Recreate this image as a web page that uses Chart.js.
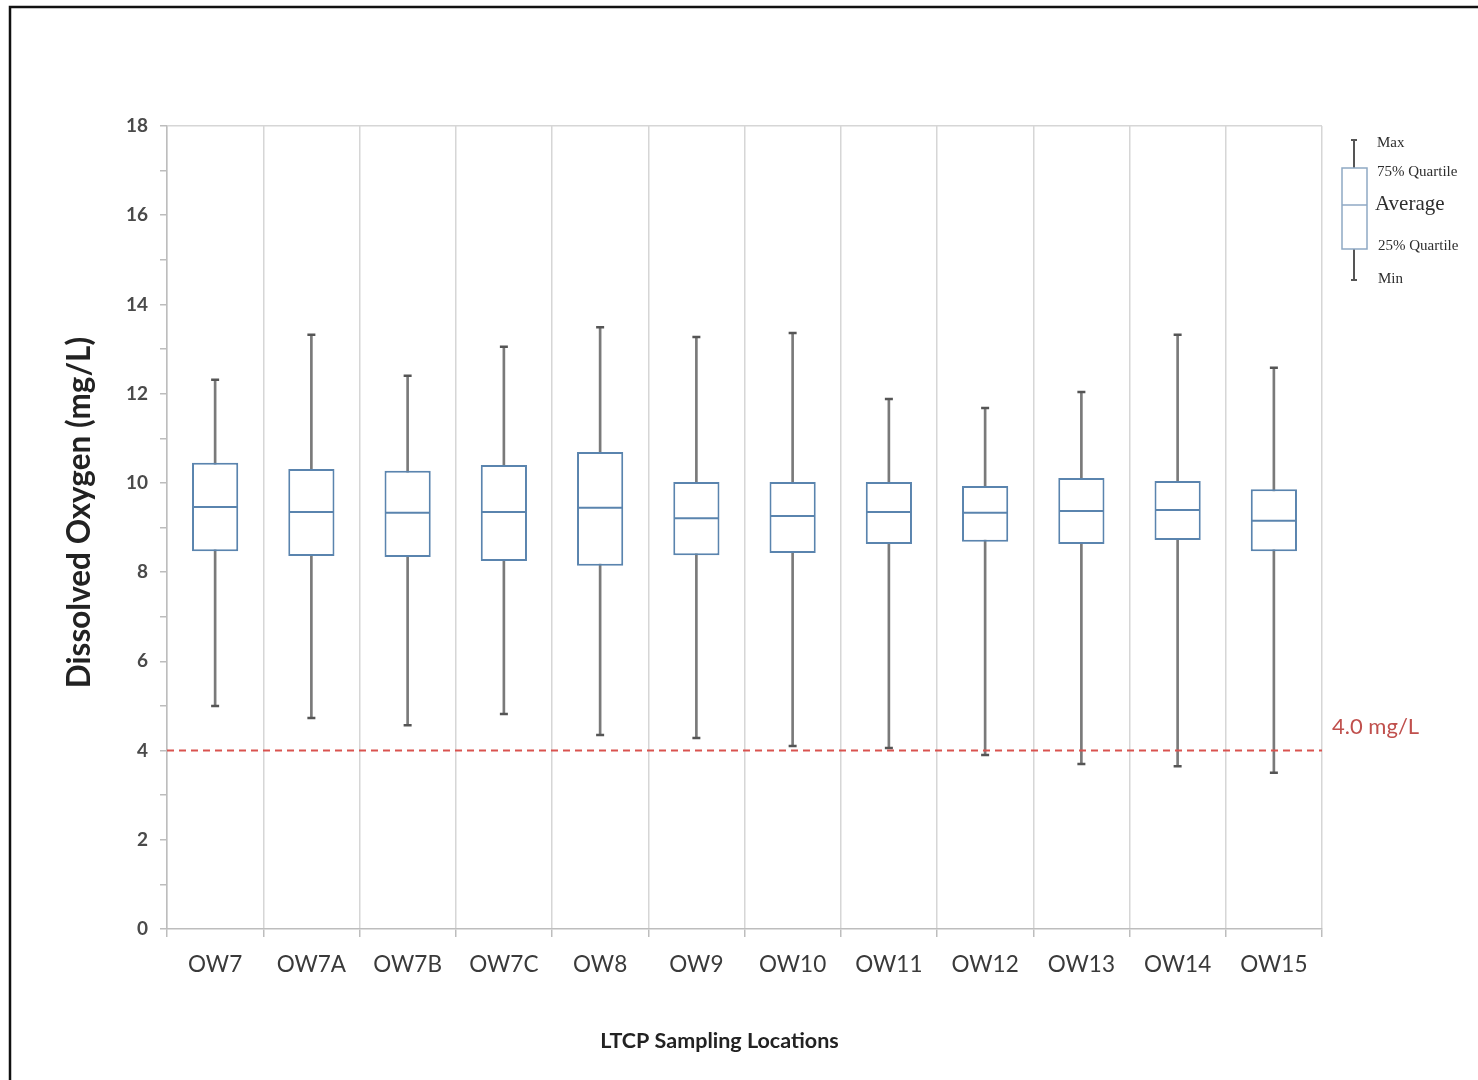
<!DOCTYPE html>
<html>
<head>
<meta charset="utf-8">
<title>Dissolved Oxygen by LTCP Sampling Location</title>
<script src="https://cdn.jsdelivr.net/npm/chart.js@4.4.1/dist/chart.umd.min.js"></script>
<style>
  html, body { margin: 0; padding: 0; background: #ffffff; }
  #wrap { position: relative; width: 1478px; height: 1080px; overflow: hidden; }
  canvas { display: block; }
</style>
</head>
<body>
<div id="wrap"><canvas id="chart" width="1478" height="1080"></canvas></div>
<script>
// Sampling locations and dissolved oxygen statistics (mg/L)
const locations = ['OW7', 'OW7A', 'OW7B', 'OW7C', 'OW8', 'OW9', 'OW10', 'OW11', 'OW12', 'OW13', 'OW14', 'OW15'];
const maxDO     = [12.31, 13.32, 12.40, 13.05, 13.49, 13.27, 13.36, 11.88, 11.68, 12.04, 13.32, 12.58];
const q3DO      = [10.45, 10.31, 10.27, 10.40, 10.69, 10.02, 10.02, 10.02,  9.93, 10.11, 10.04,  9.86];
const avgDO     = [ 9.46,  9.35,  9.33,  9.35,  9.44,  9.21,  9.26,  9.35,  9.33,  9.37,  9.39,  9.15];
const q1DO      = [ 8.47,  8.36,  8.34,  8.25,  8.14,  8.38,  8.43,  8.63,  8.68,  8.63,  8.72,  8.47];
const minDO     = [ 5.00,  4.73,  4.57,  4.82,  4.35,  4.28,  4.10,  4.06,  3.90,  3.70,  3.65,  3.50];

// Axis range and the water quality criterion
const yMin = 0;
const yMax = 18;
const yLabelStep = 2;
const criterion = 4.0;
const criterionLabel = '4.0 mg/L';

const yTitle = 'Dissolved Oxygen (mg/L)';
const xTitle = 'LTCP Sampling Locations';
const keyLabels = ['Max', '75% Quartile', 'Average', '25% Quartile', 'Min'];

const BOX_BLUE = '#5a84ae';
const WHISKER = '#7a7a7a';
const CAP = '#555555';
const GRID = '#d6d6d6';
const TEXT = '#3a3a3a';
const SANS = 'Lato, "Open Sans", "Liberation Sans", sans-serif';
const SERIF = '"Liberation Serif", "DejaVu Serif", serif';

// Floating ranges built from the arrays above
const whiskerRanges = minDO.map((v, i) => [v, maxDO[i]]);
const boxRanges = q1DO.map((v, i) => [v, q3DO[i]]);

const decorations = {
  id: 'decorations',
  beforeDraw(chart) {
    const ctx = chart.ctx;
    ctx.save();
    ctx.fillStyle = '#ffffff';
    ctx.fillRect(0, 0, chart.width, chart.height);
    // outer frame
    ctx.strokeStyle = '#111111';
    ctx.lineWidth = 2.5;
    ctx.beginPath();
    ctx.moveTo(10, chart.height + 5);
    ctx.lineTo(10, 7);
    ctx.lineTo(chart.width + 5, 7);
    ctx.stroke();
    ctx.restore();
  },
  afterDatasetsDraw(chart) {
    const ctx = chart.ctx;
    const area = chart.chartArea;
    const y = chart.scales.y.getPixelForValue(criterion);
    ctx.save();
    ctx.strokeStyle = '#d9534f';
    ctx.lineWidth = 2;
    ctx.setLineDash([7, 5]);
    ctx.beginPath();
    ctx.moveTo(area.left, y);
    ctx.lineTo(area.right, y);
    ctx.stroke();
    ctx.setLineDash([]);
    ctx.fillStyle = '#c0504d';
    ctx.font = '22px ' + SANS;
    ctx.textAlign = 'left';
    ctx.textBaseline = 'middle';
    ctx.fillText(criterionLabel, area.right + 10, y - 24);
    ctx.restore();
  },
  afterDraw(chart) {
    const ctx = chart.ctx;
    const area = chart.chartArea;
    ctx.save();
    // axis titles
    ctx.fillStyle = '#222222';
    ctx.font = 'bold 21.5px ' + SANS;
    ctx.textAlign = 'center';
    ctx.textBaseline = 'middle';
    ctx.fillText(xTitle, (area.left + area.right) / 2 - 25, 1041);
    ctx.translate(80, (area.top + area.bottom) / 2 - 15);
    ctx.rotate(-Math.PI / 2);
    ctx.font = 'bold 31.5px ' + SANS;
    ctx.fillText(yTitle, 0, 0);
    ctx.restore();

    // box plot key
    ctx.save();
    const kx = area.right + 32;
    ctx.strokeStyle = CAP;
    ctx.lineWidth = 2;
    ctx.beginPath();
    ctx.moveTo(kx, 140); ctx.lineTo(kx, 168);
    ctx.moveTo(kx, 249); ctx.lineTo(kx, 280);
    ctx.moveTo(kx - 3, 140); ctx.lineTo(kx + 3, 140);
    ctx.moveTo(kx - 3, 280); ctx.lineTo(kx + 3, 280);
    ctx.stroke();
    ctx.strokeStyle = '#8fa9c4';
    ctx.lineWidth = 1.5;
    ctx.strokeRect(kx - 12, 168, 25, 81);
    ctx.beginPath();
    ctx.moveTo(kx - 12, 205); ctx.lineTo(kx + 13, 205);
    ctx.stroke();
    ctx.fillStyle = '#2e2e2e';
    ctx.textAlign = 'left';
    ctx.textBaseline = 'middle';
    const tx = kx + 23;
    ctx.font = '15px ' + SERIF;
    ctx.fillText(keyLabels[0], tx, 143);
    ctx.fillText(keyLabels[1], tx, 172);
    ctx.font = '21px ' + SERIF;
    ctx.fillText(keyLabels[2], tx - 2, 204);
    ctx.font = '15px ' + SERIF;
    ctx.fillText(keyLabels[3], tx + 1, 246);
    ctx.fillText(keyLabels[4], tx + 1, 279);
    ctx.restore();
  }
};

const chart = new Chart(document.getElementById('chart'), {
  type: 'bar',
  data: {
    labels: locations,
    datasets: [
      {
        label: 'Min to Max',
        data: whiskerRanges,
        backgroundColor: WHISKER,
        borderWidth: 0,
        barThickness: 2,
        grouped: false,
        order: 4
      },
      {
        label: 'Interquartile range',
        data: boxRanges,
        backgroundColor: '#ffffff',
        borderColor: BOX_BLUE,
        borderWidth: 2,
        borderSkipped: false,
        barPercentage: 0.48,
        categoryPercentage: 1,
        grouped: false,
        order: 3
      },
      {
        type: 'line',
        label: 'Max',
        data: maxDO,
        showLine: false,
        pointStyle: 'line',
        pointRadius: 4,
        borderColor: CAP,
        borderWidth: 2.5,
        order: 2
      },
      {
        type: 'line',
        label: 'Min',
        data: minDO,
        showLine: false,
        pointStyle: 'line',
        pointRadius: 4,
        borderColor: CAP,
        borderWidth: 2.5,
        order: 2
      },
      {
        type: 'line',
        label: 'Average',
        data: avgDO,
        showLine: false,
        pointStyle: 'line',
        pointRadius: 22,
        borderColor: BOX_BLUE,
        borderWidth: 2,
        order: 1
      }
    ]
  },
  options: {
    responsive: false,
    animation: false,
    devicePixelRatio: 1,
    layout: { padding: { top: 126, right: 156, bottom: 0, left: 0 } },
    plugins: {
      legend: { display: false },
      tooltip: { enabled: false },
      title: { display: false }
    },
    scales: {
      x: {
        offset: true,
        grid: {
          offset: true,
          color: GRID,
          lineWidth: 1.5,
          tickColor: '#bdbdbd',
          tickLength: 8
        },
        border: { color: '#bdbdbd', width: 1.5 },
        ticks: {
          color: TEXT,
          font: { family: SANS, size: 22.5 },
          padding: 14,
          maxRotation: 0
        },
        afterFit(scale) { scale.height = 151; }
      },
      y: {
        min: yMin,
        max: yMax,
        grid: {
          color: (c) => (c.tick && c.tick.value === yMax ? GRID : 'rgba(0,0,0,0)'),
          lineWidth: 1.5,
          tickColor: '#bdbdbd',
          tickLength: 7
        },
        border: { color: '#bdbdbd', width: 1.5 },
        ticks: {
          stepSize: 1,
          color: '#4a4a4a',
          font: { family: SANS, size: 19, weight: 'bold' },
          padding: 12,
          callback: (v) => (v % yLabelStep === 0 ? String(v) : '')
        },
        afterFit(scale) { scale.width = 167; }
      }
    }
  },
  plugins: [decorations]
});
</script>
</body>
</html>
